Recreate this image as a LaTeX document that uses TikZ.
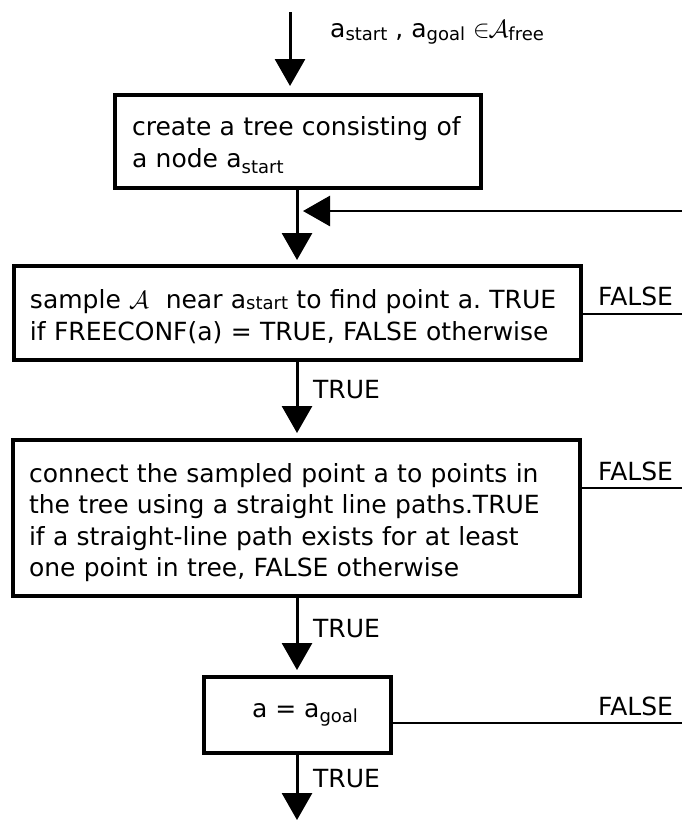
\documentclass[tikz,border=0pt]{standalone}
\usepackage{fontspec}
\setmainfont{DejaVu Sans}
\usetikzlibrary{arrows.meta}
\frenchspacing
\newcommand\lowsub[2]{\raisebox{-#1pt}{\fontsize{18}{18}\selectfont #2}}
\newcommand\calA{{\fontsize{27}{27}\selectfont$\mathcal{A}$}}
\newcommand\inA{{\fontsize{30}{30}\selectfont$\in$}\kern-1pt{\fontsize{27}{27}\selectfont$\mathcal{A}$}}
\begin{document}
\begin{tikzpicture}[x=1pt,y=-1pt,
  box/.style={draw, line width=4pt, rectangle, inner xsep=17pt, inner ysep=0pt,
    align=left, font=\fontsize{25}{32}\selectfont},
  flow/.style={line width=3pt, -{Triangle[length=27pt,width=30pt]}},
  falseline/.style={line width=2pt},
  lbl/.style={font=\fontsize{25}{32}\selectfont, inner sep=0pt, anchor=base west}]
\useasboundingbox (0,0) rectangle (682,820);

\node[box, minimum width=366pt, minimum height=93pt, text width=332pt] (b1) at (298,141.5)
  {\rule{0pt}{27pt}create a tree consisting of\\a node a\lowsub{6}{start}};
\node[box, minimum width=567pt, minimum height=94pt, text width=535pt, inner xsep=16pt] (b2) at (297.5,313)
  {\rule{0pt}{27pt}sample \calA\ \ near a\lowsub{1}{start} to find point a. TRUE\\if FREECONF(a) = TRUE, FALSE otherwise};
\node[box, minimum width=567pt, minimum height=156pt, text width=535pt, inner xsep=16pt,
  font=\fontsize{25}{31.3}\selectfont] (b3) at (296.5,518)
  {\rule{0pt}{28pt}connect the sampled point a to points in\\the tree using a straight line paths.TRUE\\if a straight-line path exists for at least\\one point in tree, FALSE otherwise};
\node[box, minimum width=187pt, minimum height=76pt, align=center] (b4) at (297.5,715)
  {\hspace*{15pt}a = a\lowsub{5}{goal}};

\coordinate (start) at (290,12);
\coordinate (loopin) at (682,211);
\coordinate (merge) at (297,211);
\coordinate (f1) at (682,314);
\coordinate (f2) at (682,488);
\coordinate (f3) at (682,723);
\coordinate (stop) at (297,820);

\draw[flow, shorten >=7pt] (start) -- (start |- b1.north);
\draw[flow, shorten >=4pt] (b1.south -| merge) -- (b2.north -| merge);
\draw[flow, line width=2.8pt, shorten >=6pt] (loopin) -- (merge);
\draw[flow, shorten >=5pt] (b2.south -| merge) -- (b3.north -| merge);
\draw[flow, shorten >=5pt] (b3.south -| merge) -- (b4.north -| merge);
\draw[flow] (b4.south -| merge) -- (stop);

\draw[falseline] (f1 -| b2.east) -- (f1);
\draw[falseline] (f2 -| b3.east) -- (f2);
\draw[falseline] (f3 -| b4.east) -- (f3);

\node[lbl] (tl) at (330,37) {a\lowsub{3}{start} , a\lowsub{3}{goal} \inA\lowsub{3}{free}};
\node[lbl] (fl1) at (598,305) {FALSE};
\node[lbl] (fl2) at (598,480) {FALSE};
\node[lbl] (fl3) at (598,715) {FALSE};
\node[lbl] (tr1) at (313,398) {TRUE};
\node[lbl] (tr2) at (313,637) {TRUE};
\node[lbl] (tr3) at (313,787) {TRUE};
\end{tikzpicture}
\end{document}
